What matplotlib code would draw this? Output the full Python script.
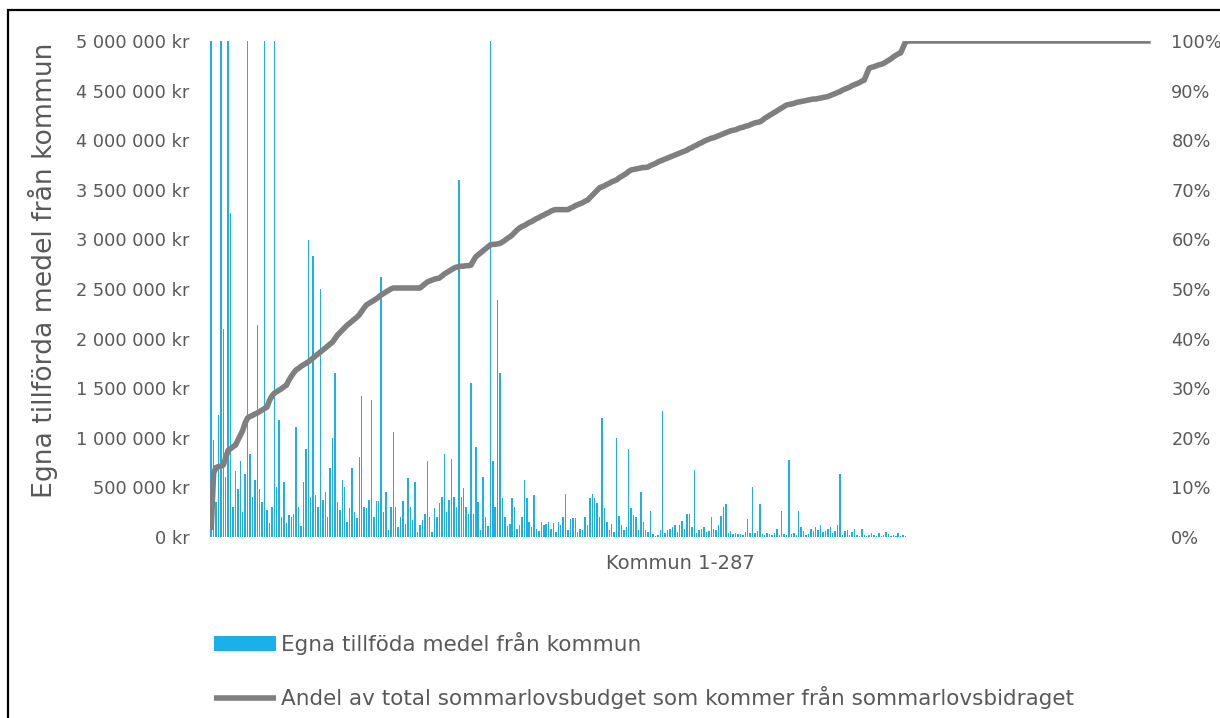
import matplotlib
matplotlib.use("Agg")
import matplotlib.pyplot as plt
from matplotlib.patches import Rectangle
from matplotlib.ticker import FuncFormatter

# ---------------- data ----------------
# Egna tillförda medel från kommun (miljoner kr), kommun 1-287 (capped at 5 Mkr in chart)
own_funds_mkr = [
    5.0, 0.98, 0.35, 1.23, 5.0, 2.1, 0.6, 5.0, 3.27, 0.3,
    0.67, 0.48, 0.77, 0.25, 0.63, 5.0, 0.84, 0.4, 0.57, 2.14,
    0.48, 0.35, 5.0, 0.27, 0.14, 0.3, 5.0, 0.5, 1.18, 0.2,
    0.55, 0.14, 0.22, 0.2, 0.23, 1.11, 0.3, 0.11, 0.55, 0.89,
    2.99, 0.4, 2.83, 0.42, 0.3, 2.5, 0.37, 0.45, 0.2, 0.7,
    1.0, 1.65, 0.35, 0.27, 0.57, 0.5, 0.15, 0.29, 0.7, 0.25,
    0.19, 0.81, 1.42, 0.3, 0.29, 0.37, 1.38, 0.2, 0.36, 0.36,
    2.62, 0.25, 0.45, 0.07, 0.3, 1.06, 0.3, 0.1, 0.2, 0.36,
    0.13, 0.59, 0.3, 0.17, 0.55, 0.05, 0.12, 0.17, 0.23, 0.77,
    0.2, 0.05, 0.29, 0.2, 0.34, 0.4, 0.84, 0.25, 0.37, 0.79,
    0.4, 0.3, 3.6, 0.4, 0.49, 0.3, 0.23, 1.55, 0.23, 0.91,
    0.35, 0.07, 0.6, 0.2, 0.11, 5.0, 0.77, 0.3, 2.39, 1.65,
    0.39, 0.2, 0.11, 0.13, 0.39, 0.3, 0.08, 0.12, 0.2, 0.57,
    0.39, 0.15, 0.1, 0.42, 0.08, 0.06, 0.15, 0.12, 0.13, 0.15,
    0.08, 0.14, 0.05, 0.15, 0.12, 0.2, 0.43, 0.07, 0.18, 0.19,
    0.19, 0.05, 0.08, 0.07, 0.2, 0.12, 0.39, 0.43, 0.39, 0.34,
    0.2, 1.2, 0.29, 0.15, 0.07, 0.13, 0.05, 1.0, 0.21, 0.12,
    0.07, 0.1, 0.89, 0.29, 0.22, 0.2, 0.07, 0.45, 0.15, 0.07,
    0.05, 0.26, 0.03, 0.01, 0.02, 0.07, 1.27, 0.04, 0.07, 0.08,
    0.1, 0.12, 0.05, 0.12, 0.16, 0.08, 0.23, 0.23, 0.1, 0.68,
    0.04, 0.07, 0.08, 0.1, 0.05, 0.06, 0.2, 0.08, 0.07, 0.12,
    0.21, 0.3, 0.33, 0.04, 0.06, 0.03, 0.04, 0.03, 0.03, 0.02,
    0.05, 0.18, 0.04, 0.5, 0.04, 0.06, 0.33, 0.03, 0.02, 0.04,
    0.03, 0.02, 0.04, 0.08, 0.02, 0.26, 0.03, 0.02, 0.78, 0.03,
    0.04, 0.02, 0.26, 0.1, 0.06, 0.02, 0.03, 0.08, 0.06, 0.1,
    0.07, 0.12, 0.05, 0.06, 0.08, 0.1, 0.04, 0.06, 0.12, 0.64,
    0.02, 0.06, 0.07, 0.02, 0.05, 0.08, 0.02, 0.01, 0.08, 0.02,
    0.01, 0.02, 0.04, 0.02, 0.01, 0.04, 0.01, 0.02, 0.05, 0.03,
    0.01, 0.02, 0.01, 0.04, 0.01, 0.02, 0.01,
]

# Andel av total sommarlovsbudget som kommer från sommarlovsbidraget (%), cumulative
share_pct = [
    1.4, 12.9, 14.0, 14.2, 14.3, 14.5, 16.0, 17.5, 17.8, 18.2,
    18.5, 19.5, 20.5, 21.5, 23.0, 24.0, 24.3, 24.5, 24.8, 25.0,
    25.3, 25.6, 25.9, 26.2, 27.5, 28.4, 29.0, 29.3, 29.6, 29.9,
    30.3, 30.6, 31.6, 32.4, 33.1, 33.7, 34.0, 34.4, 34.7, 35.0,
    35.3, 35.7, 36.1, 36.5, 36.9, 37.3, 37.7, 38.1, 38.5, 38.9,
    39.3, 40.0, 40.7, 41.2, 41.7, 42.2, 42.7, 43.1, 43.5, 43.9,
    44.3, 44.8, 45.5, 46.2, 46.8, 47.1, 47.4, 47.7, 48.0, 48.4,
    48.8, 49.1, 49.4, 49.7, 50.0, 50.2, 50.2, 50.2, 50.2, 50.2,
    50.2, 50.2, 50.2, 50.2, 50.2, 50.2, 50.2, 50.6, 51.0, 51.4,
    51.6, 51.8, 52.0, 52.1, 52.2, 52.6, 53.0, 53.3, 53.6, 53.9,
    54.2, 54.4, 54.5, 54.6, 54.6, 54.7, 54.7, 54.8, 55.7, 56.5,
    56.9, 57.3, 57.7, 58.1, 58.5, 58.9, 59.0, 59.0, 59.1, 59.2,
    59.5, 59.8, 60.2, 60.5, 60.9, 61.4, 61.9, 62.3, 62.6, 62.8,
    63.1, 63.4, 63.6, 63.9, 64.2, 64.4, 64.7, 64.9, 65.2, 65.4,
    65.7, 65.9, 66.0, 66.0, 66.0, 66.0, 66.0, 66.0, 66.3, 66.5,
    66.8, 67.0, 67.2, 67.4, 67.7, 67.9, 68.4, 68.9, 69.4, 69.9,
    70.4, 70.6, 70.8, 71.1, 71.3, 71.6, 71.8, 72.0, 72.4, 72.7,
    73.0, 73.3, 73.7, 74.0, 74.1, 74.2, 74.3, 74.4, 74.5, 74.5,
    74.6, 74.9, 75.1, 75.3, 75.6, 75.8, 76.0, 76.2, 76.4, 76.6,
    76.8, 77.0, 77.2, 77.4, 77.6, 77.8, 78.0, 78.3, 78.5, 78.8,
    79.0, 79.3, 79.5, 79.8, 80.0, 80.2, 80.4, 80.5, 80.7, 80.9,
    81.1, 81.3, 81.5, 81.7, 81.9, 82.0, 82.1, 82.3, 82.5, 82.6,
    82.8, 82.9, 83.1, 83.3, 83.5, 83.6, 83.7, 84.0, 84.4, 84.7,
    85.0, 85.3, 85.6, 85.9, 86.2, 86.5, 86.8, 87.1, 87.2, 87.3,
    87.4, 87.6, 87.7, 87.8, 87.9, 88.0, 88.1, 88.2, 88.3, 88.3,
    88.4, 88.5, 88.6, 88.7, 88.8, 89.0, 89.2, 89.4, 89.6, 89.8,
    90.1, 90.3, 90.5, 90.7, 91.0, 91.2, 91.4, 91.6, 91.9, 92.1,
    93.3, 94.5, 94.7, 94.8, 95.0, 95.2, 95.3, 95.5, 95.8, 96.1,
    96.4, 96.8, 97.1, 97.4, 97.6, 98.7, 99.8,
]
# trailing (empty) rows of the sheet where the cumulative share stays at 100 %
share_tail_pct = [100.0] * 101

y_left_ticks = [0, 500000, 1000000, 1500000, 2000000, 2500000,
                3000000, 3500000, 4000000, 4500000, 5000000]
y_right_ticks = [0, 10, 20, 30, 40, 50, 60, 70, 80, 90, 100]

bar_label = "Egna tillföda medel från kommun"
line_label = "Andel av total sommarlovsbudget som kommer från sommarlovsbidraget"
y_label = "Egna tillförda medel från kommun"
x_label = "Kommun 1-287"

# ---------------- styling ----------------
BLUE = "#1AB0EA"
GREY_LINE = "#7F7F7F"
TXT = "#595959"
plt.rcParams["font.family"] = ["DejaVu Sans"]

fig = plt.figure(figsize=(12.2, 7.18), dpi=100)
fig.patch.set_facecolor("white")

ax = fig.add_axes([0.1721, 0.2521, 0.7721, 0.6908])
ax2 = ax.twinx()

x_bars = list(range(len(own_funds_mkr)))
bar_vals = [v * 1_000_000 for v in own_funds_mkr]
bars = ax.bar(x_bars, bar_vals, width=0.6, color=BLUE, linewidth=0, label=bar_label)

share_all = share_pct + share_tail_pct
x_line = list(range(len(share_all)))
line, = ax2.plot(x_line, share_all, color=GREY_LINE, lw=4.0,
                 solid_joinstyle="round", solid_capstyle="butt", label=line_label)

n_total = len(share_all)
ax.set_xlim(-0.5, n_total - 0.5)
ax.set_ylim(0, 5_000_000)
ax2.set_ylim(0, 100)

def kr_fmt(v, pos):
    s = f"{int(round(v)):,}".replace(",", " ")
    return f"{s} kr"

ax.set_yticks(y_left_ticks)
ax.yaxis.set_major_formatter(FuncFormatter(kr_fmt))
ax2.set_yticks(y_right_ticks)
ax2.yaxis.set_major_formatter(FuncFormatter(lambda v, p: f"{int(v)}%"))
ax.set_xticks([])

for a in (ax, ax2):
    for sp in a.spines.values():
        sp.set_visible(False)
    a.tick_params(axis="y", length=0, labelsize=12.8, colors=TXT)
ax.tick_params(axis="y", pad=15)
ax2.tick_params(axis="y", pad=14)

ax.set_ylabel(y_label, fontsize=19.2, color=TXT)
ax.yaxis.set_label_coords(-0.161, (537 - 270) / 496)
ax.set_xlabel(x_label, fontsize=14, color=TXT)
ax.xaxis.label.set_va("top")
ax.xaxis.label.set_ha("center")
ax.xaxis.set_label_coords((680 - 210) / 942, -0.035)

# legend
leg = fig.legend(handles=[bars, line], labels=[bar_label, line_label],
                 loc="upper left", bbox_to_anchor=(214 / 1220, 1 - 632 / 718),
                 frameon=False, fontsize=15.5, handlelength=2.9, handleheight=0.65,
                 handletextpad=0.2, labelspacing=1.45, borderaxespad=0, borderpad=0)
for t in leg.get_texts():
    t.set_color(TXT)

# outer black frame (visible at left and top)
fig.add_artist(Rectangle((8 / 1220, -0.05), 1.2, 1 - 10 / 718 + 0.05,
                         transform=fig.transFigure, fill=False,
                         edgecolor="black", linewidth=1.6))

fig.savefig("out.png", dpi=100)
